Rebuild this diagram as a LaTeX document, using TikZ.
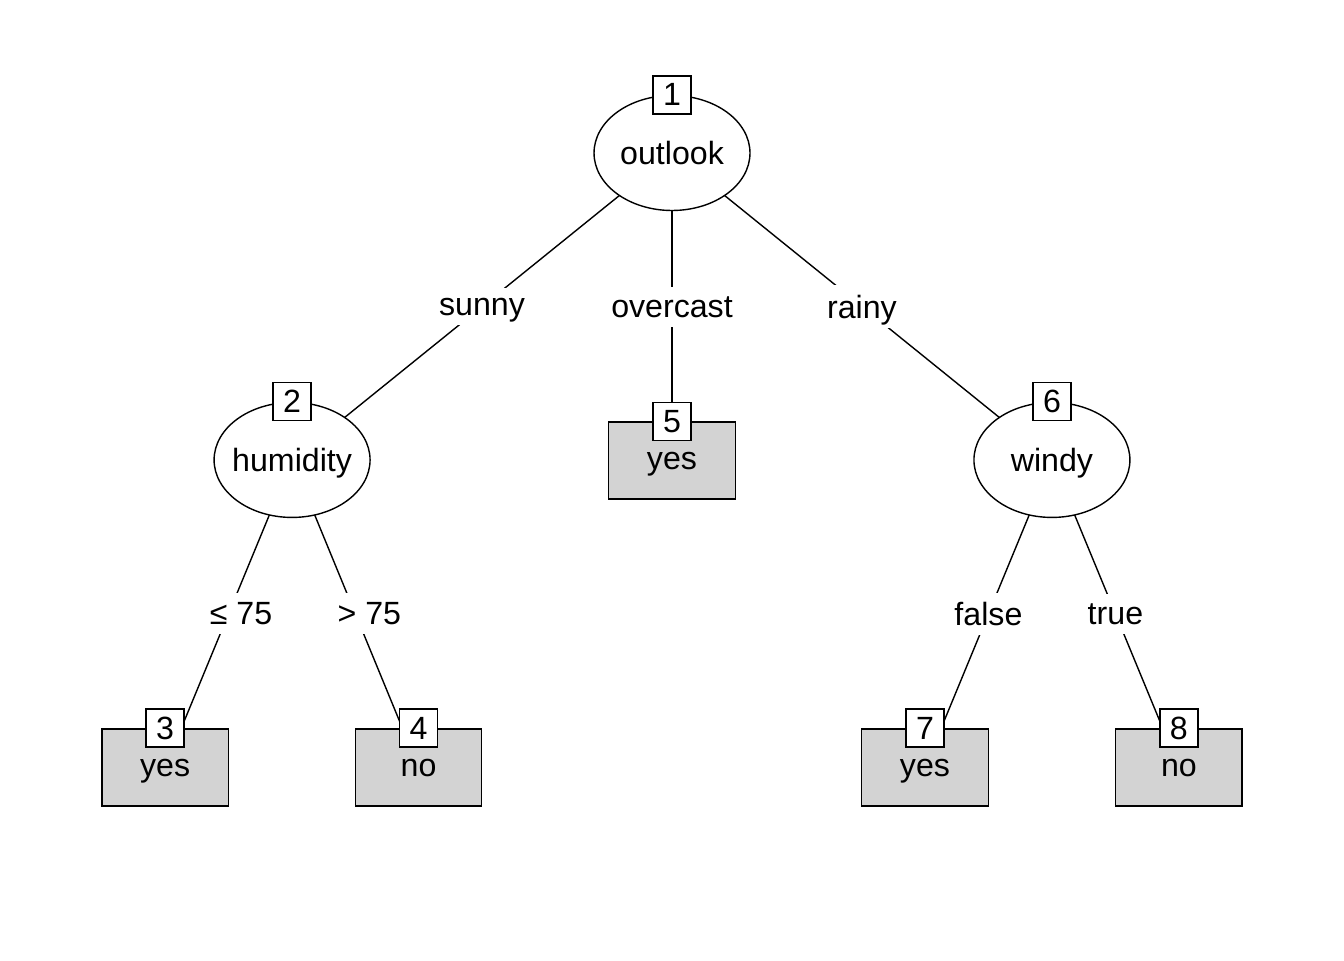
\documentclass[tikz,border=0pt]{standalone}
\usepackage{fontspec}
\setmainfont{Liberation Sans}
\usetikzlibrary{positioning}
\usetikzlibrary{shapes.geometric}
\usetikzlibrary{backgrounds}
\definecolor{leafgray}{RGB}{211,211,211}
\tikzset{
  inner/.style={ellipse, draw, fill=white, minimum width=3.12cm, minimum height=2.3cm, inner xsep=-0.5cm, inner ysep=0pt, text depth=0pt},
  leaf/.style={rectangle, draw, fill=leafgray, minimum width=2.53cm, minimum height=1.54cm, inner sep=0pt, text depth=0pt},
  idbox/.style={rectangle, draw, fill=white, minimum size=0.76cm, inner sep=0pt, text depth=0pt},
  split/.style={fill=white, inner xsep=0.1cm, inner ysep=0.19cm, text depth=0pt},
  branch/.style={line width=0.8pt},
}

\begin{document}
\begin{tikzpicture}[x=0.02cm, y=-0.02cm, line width=0.8pt, font=\fontsize{18.3}{22}\selectfont, on grid]
    \useasboundingbox (0,0) rectangle (1344,960);
    \node[inner] (outlook) at (672,153) {outlook};
    \node[inner] (humidity) [below left=6.14cm and 7.6cm of outlook] {humidity};
    \node[leaf] (yes5) [below=6.15cm of outlook] {yes};
    \node[inner] (windy) [below right=6.14cm and 7.6cm of outlook] {windy};
    \node[leaf] (yes3) [below left=6.15cm and 2.54cm of humidity] {yes};
    \node[leaf] (no4) [below right=6.15cm and 2.53cm of humidity] {no};
    \node[leaf] (yes7) [below left=6.15cm and 2.54cm of windy] {yes};
    \node[leaf] (no8) [below right=6.15cm and 2.54cm of windy] {no};
    % node numbers
    \node[idbox] (id1) at (outlook.north) {1};
    \node[idbox] (id2) at (humidity.north) {2};
    \node[idbox] (id3) at (yes3.north) {3};
    \node[idbox] (id4) at (no4.north) {4};
    \node[idbox] (id5) at (yes5.north) {5};
    \node[idbox] (id6) at (windy.north) {6};
    \node[idbox] (id7) at (yes7.north) {7};
    \node[idbox] (id8) at (no8.north) {8};
    \begin{scope}[on background layer]
      \draw[branch] (outlook.center) -- node[split] {sunny} (humidity.center);
      \draw[branch] (outlook.center) -- node[split] {overcast} (yes5.center);
      \draw[branch] (outlook.center) -- node[split] {rainy} (windy.center);
      \draw[branch] (humidity.center) -- node[split, xshift=0.25cm] {≤ 75} (yes3.center);
      \draw[branch] (humidity.center) -- node[split, xshift=0.28cm] {> 75} (no4.center);
      \draw[branch] (windy.center) -- node[split] {false} (yes7.center);
      \draw[branch] (windy.center) -- node[split] {true} (no8.center);
    \end{scope}
  \end{tikzpicture}
\end{document}
